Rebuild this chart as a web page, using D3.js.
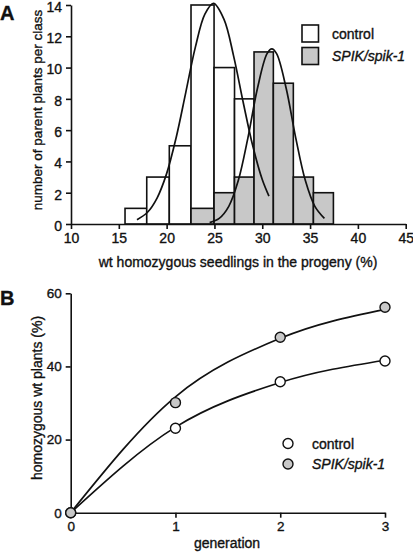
<!DOCTYPE html>
<html>
<head>
<meta charset="utf-8">
<script src="https://cdn.jsdelivr.net/npm/d3@7"></script>
<style>
  html, body { margin: 0; padding: 0; background: #fff; }
  svg { display: block; font-family: "Liberation Sans", Arial, sans-serif; }
  svg text { stroke: #111; stroke-width: 0.35px; }
</style>
</head>
<body>
<svg id="chart" width="413" height="553"></svg>
<script>
// ---------- Panel A data ----------
const binEdges = [15.65, 17.92, 20.28, 22.55, 24.96, 27.1, 29.14, 31.16, 33.25, 35.35, 37.44];
const controlCounts = [1, 3, 5, 14, 10, 8, 0, 0, 0, 0];
const spikCounts    = [0, 0, 0, 1, 2, 3, 11, 9, 3, 2];
const histXTicks = [10, 15, 20, 25, 30, 35, 40, 45];
const histYTicks = [0, 2, 4, 6, 8, 10, 12, 14];
// fitted normal curves
const controlFitX = [16.9, 18, 19, 20, 21, 22, 23, 24, 24.9, 26, 27, 28, 29, 30, 30.7];
const controlFitY = [0.27, 0.75, 1.66, 3.22, 5.53, 8.4, 11.29, 13.41, 14.1, 13.08, 10.75, 7.8, 5.01, 2.84, 1.78];
const spikFitX = [24.5, 25.5, 26.5, 27.5, 28.5, 29.5, 30.5, 31, 31.5, 32.5, 33.5, 34.5, 35.5, 36.5];
const spikFitY = [0.09, 0.36, 1.13, 2.79, 5.51, 8.68, 10.89, 11.2, 10.89, 8.68, 5.51, 2.79, 1.13, 0.36];
const seriesNames = ["control", "SPIK/spik-1"];

// ---------- Panel B data ----------
const generations = [0, 1, 2, 3];
const controlPct = [0, 23.1, 35.8, 41.5];
const spikPct    = [0, 30.1, 48.0, 56.2];
const controlCurve = [0, 23.4, 35.6, 41.7];
const spikCurve    = [0, 31.7, 47.7, 55.6];
const lineYTicks = [0, 20, 40, 60];

const svg = d3.select("#chart");
const gray = "#c8c8c8";
const ink = "#111";

// ================= Panel A =================
const xA = d3.scaleLinear().domain([10, 45]).range([71, 405.7]);
const yA = d3.scaleLinear().domain([0, 14]).range([224, 5]);
const gA = svg.append("g");

const bins = d3.range(binEdges.length - 1).map(i => ({
  x0: binEdges[i], x1: binEdges[i + 1], c: controlCounts[i], s: spikCounts[i]
}));

gA.selectAll("rect.ctrl").data(bins.filter(d => d.c > 0)).join("rect")
  .attr("x", d => xA(d.x0)).attr("width", d => xA(d.x1) - xA(d.x0))
  .attr("y", d => yA(d.c)).attr("height", d => yA(0) - yA(d.c))
  .attr("fill", "#fff").attr("stroke", ink).attr("stroke-width", 1.6);

gA.selectAll("rect.spik").data(bins.filter(d => d.s > 0)).join("rect")
  .attr("x", d => xA(d.x0)).attr("width", d => xA(d.x1) - xA(d.x0))
  .attr("y", d => yA(d.s)).attr("height", d => yA(0) - yA(d.s))
  .attr("fill", gray).attr("stroke", ink).attr("stroke-width", 1.6);

const lineA = d3.line().x(d => xA(d[0])).y(d => yA(d[1])).curve(d3.curveCatmullRom);
gA.append("path").datum(d3.zip(controlFitX, controlFitY)).attr("d", lineA)
  .attr("fill", "none").attr("stroke", ink).attr("stroke-width", 1.7);
gA.append("path").datum(d3.zip(spikFitX, spikFitY)).attr("d", lineA)
  .attr("fill", "none").attr("stroke", ink).attr("stroke-width", 1.7);

const axA_x = gA.append("g").attr("transform", `translate(0,${yA(0)})`)
  .call(d3.axisBottom(xA).tickValues(histXTicks).tickSize(5).tickSizeOuter(0).tickPadding(4));
const axA_y = gA.append("g").attr("transform", `translate(${xA(10)},0)`)
  .call(d3.axisLeft(yA).tickValues(histYTicks).tickSize(5).tickSizeOuter(0).tickPadding(4));
[axA_x, axA_y].forEach(a => {
  a.selectAll("path, line").attr("stroke", ink).attr("stroke-width", 1.6);
  a.selectAll("text").attr("font-size", 14).attr("fill", ink).attr("font-family", "Liberation Sans, Arial, sans-serif");
});
axA_y.selectAll("text").attr("dy", "0.45em");

gA.append("text").attr("x", 238).attr("y", 267).attr("text-anchor", "middle")
  .attr("font-size", 14).attr("fill", ink).text("wt homozygous seedlings in the progeny (%)");
gA.append("text").attr("transform", "translate(42,110) rotate(-90)").attr("text-anchor", "middle")
  .attr("font-size", 13.5).attr("fill", ink).text("number of parent plants per class");
svg.append("text").attr("x", 0).attr("y", 20).attr("font-size", 20).attr("font-weight", "bold")
  .attr("fill", ink).text("A");

// legend A
const legA = gA.append("g");
[0, 1].forEach(i => {
  legA.append("rect").attr("x", 302).attr("y", 25 + i * 22.5).attr("width", 16.5).attr("height", 17)
    .attr("fill", i === 0 ? "#fff" : gray).attr("stroke", ink).attr("stroke-width", 1.6);
  legA.append("text").attr("x", 332).attr("y", 38.5 + i * 22.5).attr("font-size", 14).attr("fill", ink)
    .attr("font-style", i === 1 ? "italic" : "normal").text(seriesNames[i]);
});

// ================= Panel B =================
const xB = d3.scaleLinear().domain([0, 3]).range([70.7, 385]);
const yB = d3.scaleLinear().domain([0, 60]).range([512.7, 293.3]);
const gB = svg.append("g");

const lineB = d3.line().x(d => xB(d[0])).y(d => yB(d[1])).curve(d3.curveMonotoneX);
gB.append("path").datum(d3.zip(generations, controlCurve)).attr("d", lineB)
  .attr("fill", "none").attr("stroke", ink).attr("stroke-width", 1.7);
gB.append("path").datum(d3.zip(generations, spikCurve)).attr("d", lineB)
  .attr("fill", "none").attr("stroke", ink).attr("stroke-width", 1.7);

const axB_x = gB.append("g").attr("transform", `translate(0,${yB(0)})`)
  .call(d3.axisBottom(xB).tickValues(generations).tickFormat(d3.format("d")).tickSize(5).tickSizeOuter(0).tickPadding(4));
const axB_y = gB.append("g").attr("transform", `translate(${xB(0)},0)`)
  .call(d3.axisLeft(yB).tickValues(lineYTicks).tickSize(5).tickSizeOuter(0).tickPadding(4));
[axB_x, axB_y].forEach(a => {
  a.selectAll("path, line").attr("stroke", ink).attr("stroke-width", 1.6);
  a.selectAll("text").attr("font-size", 13.5).attr("fill", ink).attr("font-family", "Liberation Sans, Arial, sans-serif");
});

gB.selectAll("circle.c").data(d3.zip(generations, controlPct)).join("circle")
  .attr("cx", d => xB(d[0])).attr("cy", d => yB(d[1])).attr("r", 5)
  .attr("fill", "#fff").attr("stroke", ink).attr("stroke-width", 1.4);
gB.selectAll("circle.s").data(d3.zip(generations, spikPct)).join("circle")
  .attr("cx", d => xB(d[0])).attr("cy", d => yB(d[1])).attr("r", 5)
  .attr("fill", gray).attr("stroke", ink).attr("stroke-width", 1.4);

gB.append("text").attr("x", 227).attr("y", 548).attr("text-anchor", "middle")
  .attr("font-size", 14).attr("fill", ink).text("generation");
gB.append("text").attr("transform", "translate(42,398) rotate(-90)").attr("text-anchor", "middle")
  .attr("font-size", 14).attr("fill", ink).text("homozygous wt plants (%)");
svg.append("text").attr("x", 0).attr("y", 305).attr("font-size", 20).attr("font-weight", "bold")
  .attr("fill", ink).text("B");

const legB = gB.append("g");
[0, 1].forEach(i => {
  legB.append("circle").attr("cx", 288).attr("cy", 443.5 + i * 20.5).attr("r", 5)
    .attr("fill", i === 0 ? "#fff" : gray).attr("stroke", ink).attr("stroke-width", 1.4);
  legB.append("text").attr("x", 312).attr("y", 448.5 + i * 20.5).attr("font-size", 14).attr("fill", ink)
    .attr("font-style", i === 1 ? "italic" : "normal").text(seriesNames[i]);
});
</script>
</body>
</html>
